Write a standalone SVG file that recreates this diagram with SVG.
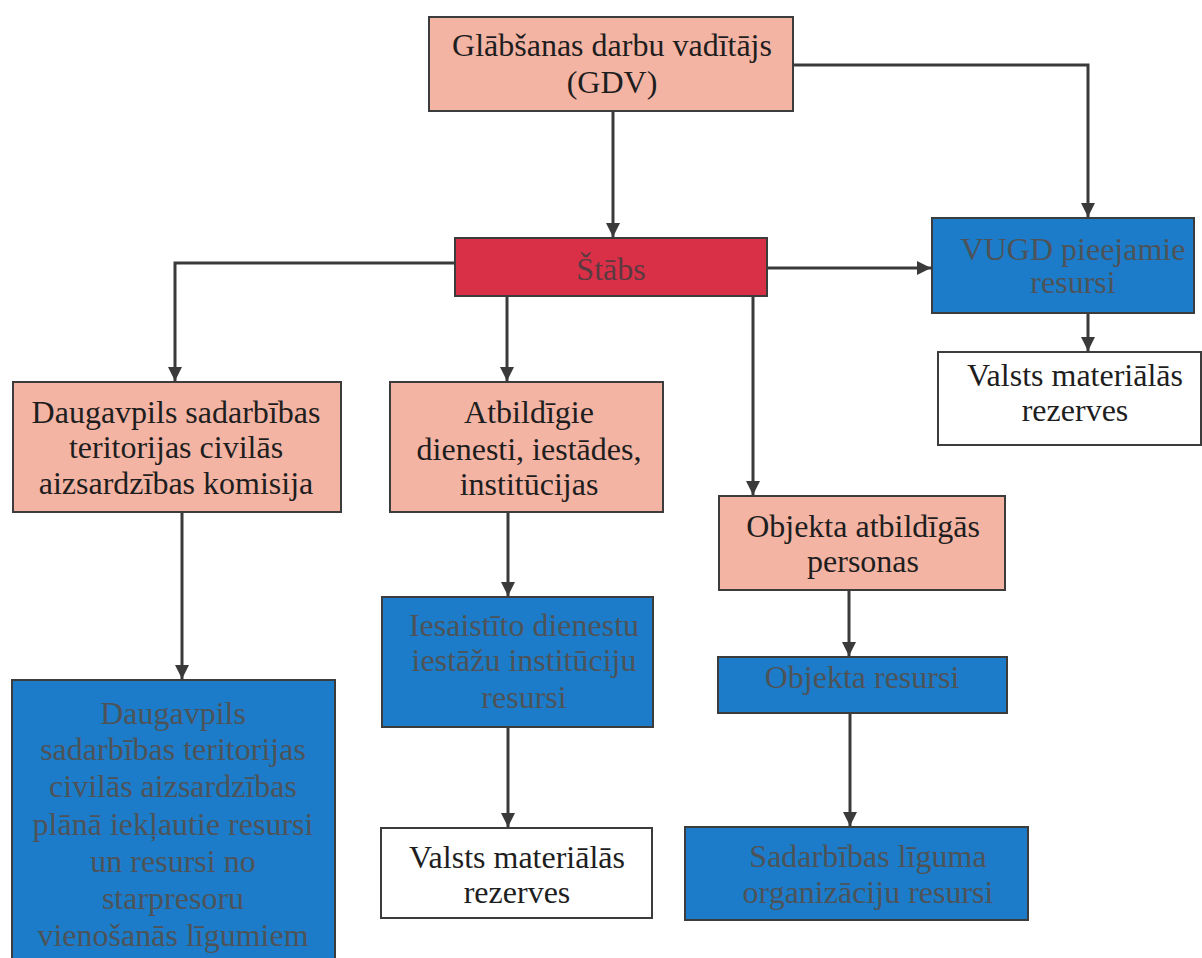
<svg xmlns="http://www.w3.org/2000/svg" width="1202" height="958" viewBox="0 0 1202 958">
<style>
.box{stroke:#3c3c3c;stroke-width:2}
.pink{fill:#f4b4a4}
.red{fill:#d93048}
.blue{fill:#1c7cc9}
.white{fill:#ffffff}
text{font-family:"Liberation Serif","Times New Roman",serif;font-size:32px;text-anchor:middle}
.dark{fill:#1e1e1e}
.bt{fill:#4d5358}
.rt{fill:#5a3a40}
.conn{fill:none;stroke:#3a3a3a;stroke-width:3;marker-end:url(#arr)}
</style>
<defs>
<marker id="arr" markerUnits="userSpaceOnUse" markerWidth="14" markerHeight="14" viewBox="0 0 14 14" refX="14" refY="7" orient="auto">
<path d="M0,0 L14,7 L0,14 Z" fill="#3a3a3a"/>
</marker>
</defs>
<rect width="1202" height="958" fill="#ffffff"/>
<g id="connectors">
<path class="conn" d="M613,111 V237"/>
<path class="conn" d="M793,65 H1088 V217"/>
<path class="conn" d="M455,263 H175 V381"/>
<path class="conn" d="M507,296 V381"/>
<path class="conn" d="M753,296 V495"/>
<path class="conn" d="M767,268 H931"/>
<path class="conn" d="M1088,313 V351"/>
<path class="conn" d="M182,512 V679"/>
<path class="conn" d="M508,512 V596"/>
<path class="conn" d="M508,727 V827"/>
<path class="conn" d="M849,590 V656"/>
<path class="conn" d="M850,713 V826"/>
</g>
<g id="gdv">
<rect class="box pink" x="429" y="17" width="364" height="94"/>
<text class="dark" x="612" y="56">Glābšanas darbu vadītājs</text>
<text class="dark" x="612" y="93">(GDV)</text>
</g>
<g id="stabs">
<rect class="box red" x="455" y="238" width="312" height="58"/>
<text class="rt" x="611" y="280">Štābs</text>
</g>
<g id="vugd">
<rect class="box blue" x="932" y="218" width="262" height="95"/>
<text class="bt" x="1073" y="260">VUGD pieejamie</text>
<text class="bt" x="1073" y="293">resursi</text>
</g>
<g id="valsts-right">
<rect class="box white" x="938" y="352" width="263" height="93"/>
<text class="dark" x="1075" y="386">Valsts materiālās</text>
<text class="dark" x="1075" y="421">rezerves</text>
</g>
<g id="daugavpils-komisija">
<rect class="box pink" x="13" y="382" width="328" height="130"/>
<text class="dark" x="176" y="423">Daugavpils sadarbības</text>
<text class="dark" x="176" y="458">teritorijas civilās</text>
<text class="dark" x="176" y="494">aizsardzības komisija</text>
</g>
<g id="atbildigie">
<rect class="box pink" x="390" y="382" width="273" height="130"/>
<text class="dark" x="529" y="423">Atbildīgie</text>
<text class="dark" x="529" y="460">dienesti, iestādes,</text>
<text class="dark" x="529" y="495">institūcijas</text>
</g>
<g id="objekta-personas">
<rect class="box pink" x="719" y="496" width="286" height="94"/>
<text class="dark" x="863" y="537">Objekta atbildīgās</text>
<text class="dark" x="863" y="572">personas</text>
</g>
<g id="daugavpils-resursi">
<rect class="box blue" x="12" y="680" width="323" height="290"/>
<text class="bt" x="173" y="724">Daugavpils</text>
<text class="bt" x="173" y="760">sadarbības teritorijas</text>
<text class="bt" x="173" y="797">civilās aizsardzības</text>
<text class="bt" x="173" y="835">plānā iekļautie resursi</text>
<text class="bt" x="173" y="872">un resursi no</text>
<text class="bt" x="173" y="909">starpresoru</text>
<text class="bt" x="173" y="946">vienošanās līgumiem</text>
</g>
<g id="iesaistito">
<rect class="box blue" x="382" y="597" width="271" height="130"/>
<text class="bt" x="524" y="636">Iesaistīto dienestu</text>
<text class="bt" x="524" y="671">iestāžu institūciju</text>
<text class="bt" x="524" y="708">resursi</text>
</g>
<g id="valsts-bottom">
<rect class="box white" x="381" y="828" width="271" height="90"/>
<text class="dark" x="517" y="868">Valsts materiālās</text>
<text class="dark" x="517" y="903">rezerves</text>
</g>
<g id="objekta-resursi">
<rect class="box blue" x="718" y="657" width="289" height="56"/>
<text class="bt" x="862" y="688">Objekta resursi</text>
</g>
<g id="sadarbibas">
<rect class="box blue" x="685" y="827" width="343" height="93"/>
<text class="bt" x="868" y="867">Sadarbības līguma</text>
<text class="bt" x="868" y="903">organizāciju resursi</text>
</g>
</svg>
